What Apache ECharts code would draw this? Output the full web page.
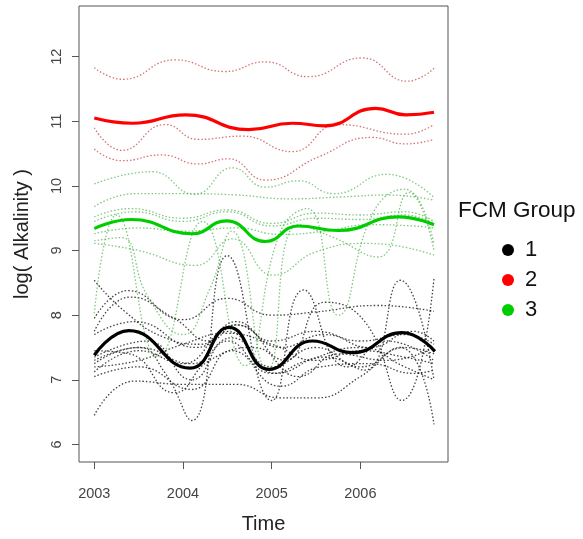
<!DOCTYPE html>
<html><head><meta charset="utf-8">
<script src="https://cdn.jsdelivr.net/npm/echarts@6/dist/echarts.min.js"></script>
<style>html,body{margin:0;padding:0;background:#fff}#c{width:583px;height:539px}</style>
</head><body><div id="c"></div><script>
// ---- data (year, log(Alkalinity)) ----
const xTicks = [2003, 2004, 2005, 2006];
const yTicks = [6, 7, 8, 9, 10, 11, 12];
const groupNames = ['1', '2', '3'];

const group1Mean = [[2003,7.38],[2003.39,7.76],[2004.08,7.18],[2004.52,7.81],[2004.97,7.16],[2005.46,7.6],[2005.91,7.42],[2006.47,7.73],[2006.84,7.44]];
const group2Mean = [[2003,11.05],[2003.43,10.97],[2004.03,11.10],[2004.74,10.87],[2005.23,10.97],[2005.6,10.93],[2006.17,11.2],[2006.51,11.1],[2006.83,11.14]];
const group3Mean = [[2003,9.34],[2003.42,9.48],[2004.1,9.26],[2004.49,9.46],[2004.93,9.14],[2005.3,9.38],[2005.75,9.31],[2006.43,9.52],[2006.83,9.4]];

const group1Members = [
  [[2003,7.3],[2003.5,7.5],[2003.8,7.1],[2004.1,6.37],[2004.5,8.92],[2005.0,6.68],[2005.36,8.39],[2005.85,7.2],[2006.3,7.6],[2006.83,7.3]],
  [[2003,7.25],[2003.5,7.5],[2004.1,7.25],[2004.55,7.65],[2005.05,7.1],[2005.6,7.35],[2006.05,7.15],[2006.45,8.54],[2006.83,7.0]],
  [[2003,7.7],[2003.45,7.9],[2004.15,7.5],[2004.6,7.85],[2005.15,7.3],[2005.6,8.2],[2006.05,7.9],[2006.47,6.68],[2006.83,8.57]],
  [[2003,6.45],[2003.45,6.98],[2004,6.93],[2004.6,6.93],[2005.1,6.72],[2005.5,6.72],[2006,7.05],[2006.45,7.5],[2006.83,6.31]],
  [[2003,8.54],[2003.35,8.05],[2003.8,7.65],[2004.2,7.55],[2004.6,7.9],[2005.0,7.6],[2005.5,7.75],[2006,7.6],[2006.5,7.7],[2006.83,7.55]],
  [[2003,7.95],[2003.38,8.38],[2004,7.93],[2004.5,8.26],[2005,8.0],[2005.5,8.05],[2006.2,8.15],[2006.83,8.06]],
  [[2003,7.75],[2003.4,8.28],[2003.9,7.95],[2004.3,7.6],[2004.6,7.85],[2005.1,7.5],[2005.6,7.7],[2006.1,7.5],[2006.6,7.75],[2006.83,7.6]],
  [[2003,7.2],[2003.5,7.3],[2004,7.55],[2004.5,7.72],[2005,7.55],[2005.5,7.3],[2006,7.45],[2006.5,7.35],[2006.83,7.25]],
  [[2003,7.12],[2003.5,7.45],[2004,7.25],[2004.5,7.75],[2005,7.2],[2005.5,7.5],[2006,7.2],[2006.5,7.5],[2006.83,7.4]],
  [[2003,7.35],[2003.6,7.6],[2004.1,7.0],[2004.5,7.6],[2005,7.1],[2005.4,7.3],[2006,7.5],[2006.5,7.2],[2006.83,7.0]],
  [[2003,7.05],[2003.5,7.2],[2004.1,6.85],[2004.55,7.45],[2005.1,6.9],[2005.55,7.2],[2006.1,7.25],[2006.6,7.1],[2006.83,7.15]],
  [[2003,7.45],[2003.4,7.4],[2003.9,6.8],[2004.3,7.3],[2004.8,7.5],[2005.3,7.05],[2005.75,7.4],[2006.3,7.3],[2006.83,7.5]]
];
const group2Members = [
  [[2003,11.83],[2003.32,11.65],[2003.91,11.95],[2004.47,11.77],[2004.93,11.92],[2005.41,11.69],[2006.02,11.98],[2006.53,11.62],[2006.83,11.82]],
  [[2003,10.9],[2003.31,10.55],[2003.8,10.95],[2004.17,10.72],[2004.67,10.77],[2005.23,10.53],[2005.75,10.95],[2006.51,10.8],[2006.83,10.95]],
  [[2003,10.57],[2003.31,10.39],[2003.76,10.48],[2004.17,10.34],[2004.51,10.42],[2004.93,10.09],[2005.53,10.45],[2006.13,10.75],[2006.51,10.65],[2006.83,10.72]]
];
const group3Members = [
  [[2003,10.03],[2003.65,10.22],[2004.13,9.87],[2004.56,10.28],[2004.93,9.98],[2005.3,10.08],[2005.7,9.88],[2006.3,10.18],[2006.83,9.82]],
  [[2003,9.68],[2003.45,9.88],[2004,9.88],[2004.6,9.86],[2005.2,9.8],[2005.8,9.83],[2006.3,9.86],[2006.83,9.78]],
  [[2003,9.52],[2003.4,9.65],[2004,9.5],[2004.5,9.63],[2005,9.42],[2005.5,9.58],[2006,9.55],[2006.5,9.6],[2006.83,9.45]],
  [[2003,9.45],[2003.45,9.6],[2004,9.45],[2004.5,9.6],[2005,9.38],[2005.5,9.5],[2006,9.48],[2006.5,9.55],[2006.83,9.42]],
  [[2003,9.26],[2003.5,9.35],[2004,9.3],[2004.6,9.35],[2005.1,9.25],[2005.6,9.3],[2006.1,9.4],[2006.6,9.38],[2006.83,9.35]],
  [[2003,9.11],[2003.5,9.0],[2004.14,8.77],[2004.56,9.18],[2005.02,8.62],[2005.5,8.98],[2006.1,9.11],[2006.83,8.93]],
  [[2003,8.03],[2003.25,9.55],[2003.72,7.36],[2004.22,9.45],[2004.7,7.22],[2005.1,9.3],[2005.4,9.65],[2005.75,8.0],[2006.15,9.6],[2006.5,9.95],[2006.83,9.1]],
  [[2003,9.15],[2003.3,9.2],[2003.6,8.3],[2004.0,7.7],[2004.3,8.4],[2004.55,9.3],[2004.95,7.15],[2005.3,9.4],[2005.7,9.2],[2006.2,8.9],[2006.55,9.9],[2006.83,9.0]]
];

// ---- styling ----
const meanColors = ['#000000', '#ff0000', '#00cd00'];
const memberColors = ['rgba(20,20,20,0.8)', 'rgba(200,70,70,0.75)', 'rgba(60,170,60,0.65)'];
const FONT = 'Liberation Sans, Arial, sans-serif';

const series = [];
[group1Members, group2Members, group3Members].forEach((members, g) => {
  members.forEach((d, i) => {
    series.push({
      name: 'm' + g + '_' + i, type: 'line', data: d, smooth: 0.5, showSymbol: false, silent: true,
      lineStyle: { color: memberColors[g], width: 1.3, type: [1.5, 2] }, z: 2
    });
  });
});
[group1Mean, group2Mean, group3Mean].forEach((d, g) => {
  series.push({
    name: groupNames[g], type: 'line', data: d, smooth: 0.5, showSymbol: false, silent: true,
    itemStyle: { color: meanColors[g] },
    lineStyle: { color: meanColors[g], width: 3.2 }, z: 5
  });
});

const chart = echarts.init(document.getElementById('c'), null, { renderer: 'canvas' });
chart.setOption({
  animation: false,
  backgroundColor: '#fff',
  grid: { left: 79, top: 6, width: 369, height: 459, show: true, borderColor: '#555', borderWidth: 1, backgroundColor: 'transparent' },
  xAxis: {
    type: 'value', min: 2002.8275, max: 2006.988,
    axisLine: { show: false }, splitLine: { show: false },
    axisTick: { show: true, length: 7, customValues: xTicks, lineStyle: { color: '#555' } },
    axisLabel: { customValues: xTicks, formatter: v => String(v), margin: 24, fontSize: 14.5, color: '#444', fontFamily: FONT },
    name: 'Time', nameLocation: 'middle', nameGap: 52,
    nameTextStyle: { fontSize: 20, color: '#222', fontFamily: FONT }
  },
  yAxis: {
    type: 'value', min: 5.728, max: 12.784,
    axisLine: { show: false }, splitLine: { show: false },
    axisTick: { show: true, length: 7, customValues: yTicks, lineStyle: { color: '#555' } },
    axisLabel: { customValues: yTicks, formatter: v => String(v), rotate: 90, margin: 15, fontSize: 14.5, color: '#444', fontFamily: FONT },
    name: 'log( Alkalinity )', nameLocation: 'middle', nameGap: 47, nameRotate: 90,
    nameTextStyle: { fontSize: 20, color: '#222', fontFamily: FONT }
  },
  legend: {
    data: groupNames, orient: 'vertical', left: 497, top: 234,
    icon: 'circle', itemWidth: 24, itemHeight: 12, itemGap: 8,
    textStyle: { fontSize: 22, lineHeight: 22, color: '#111', fontFamily: FONT },
    selectedMode: false
  },
  graphic: [{
    type: 'text', left: 458, top: 199,
    style: { text: 'FCM Group', fontSize: 22.5, fill: '#111', fontFamily: FONT }
  }],
  series: series
});
</script></body></html>
